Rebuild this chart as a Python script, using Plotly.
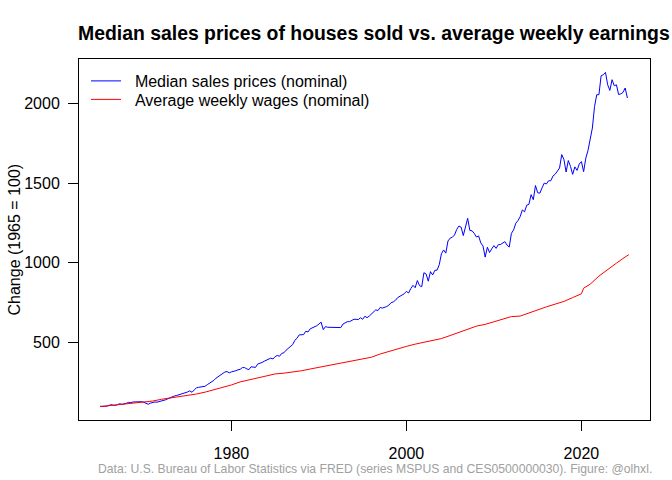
import plotly.graph_objects as go

# Median sales price of houses sold (MSPUS), quarterly 1965Q1-2025Q2, index 1965 = 100
mspus_index = [
    100, 98, 100, 101,      # 1965
    104, 110, 107, 106,     # 1966
    111, 116, 112, 114,     # 1967
    119, 125, 123, 127,     # 1968
    128, 129, 129, 129,     # 1969
    125, 120, 113, 120,     # 1970
    124, 127, 126, 129,     # 1971
    132, 135, 141, 148,     # 1972
    155, 161, 165, 168,     # 1973
    172, 178, 184, 186,     # 1974
    190, 197, 188, 203,     # 1975
    216, 219, 221, 223,     # 1976
    226, 236, 245, 252,     # 1977
    263, 277, 286, 297,     # 1978
    305, 315, 318, 310,     # 1979
    316, 318, 323, 329,     # 1980
    332, 343, 343, 335,     # 1981
    330, 348, 344, 344,     # 1982
    365, 368, 375, 383,     # 1983
    388, 397, 402, 397,     # 1984
    412, 419, 414, 432,     # 1985
    436, 452, 464, 472,     # 1986
    487, 514, 527, 548,     # 1987
    547, 550, 571, 566,     # 1988
    586, 591, 596, 605,     # 1989
    616, 628, 581, 600,     # 1990
    596, 596, 596, 596,     # 1991
    594, 596, 594, 616,     # 1992
    621, 631, 631, 641,     # 1993
    646, 646, 644, 656,     # 1994
    646, 665, 656, 666,     # 1995
    681, 695, 705, 701,     # 1996
    720, 716, 720, 726,     # 1997
    735, 750, 755, 765,     # 1998
    782, 789, 800, 806,     # 1999
    821, 811, 839, 859,     # 2000
    844, 889, 857, 850,     # 2001
    938, 930, 885, 945,     # 2002
    924, 953, 954, 988,     # 2003
    1057, 1081, 1061, 1137, # 2004
    1155, 1161, 1175, 1210, # 2005
    1231, 1224, 1171, 1219, # 2006
    1279, 1203, 1201, 1185, # 2007
    1162, 1169, 1125, 1106, # 2008
    1036, 1098, 1065, 1088, # 2009
    1108, 1091, 1114, 1115, # 2010
    1127, 1133, 1111, 1099, # 2011
    1185, 1207, 1249, 1265, # 2012
    1290, 1332, 1320, 1362, # 2013
    1367, 1428, 1396, 1485, # 2014
    1440, 1437, 1470, 1500, # 2015
    1495, 1515, 1515, 1545, # 2016
    1556, 1575, 1595, 1679, # 2017
    1649, 1570, 1642, 1605, # 2018
    1555, 1602, 1580, 1620, # 2019
    1635, 1572, 1657, 1705, # 2020
    1772, 1846, 1981, 2055, # 2021
    2055, 2174, 2180, 2195, # 2022
    2117, 2082, 2149, 2111, # 2023
    2117, 2056, 2060, 2069, # 2024
    2097, 2034,             # 2025
]
mspus_start_year = 1965
mspus_freq = 4

# Average weekly earnings (CES0500000030), index 1965 = 100
wage_years = [
    1965, 1966, 1967, 1968, 1969, 1970, 1971, 1972, 1973, 1974,
    1975, 1976, 1977, 1978, 1979, 1980, 1981, 1982, 1983, 1984,
    1985, 1986, 1987, 1988, 1989, 1990, 1991, 1992, 1993, 1994,
    1995, 1996, 1997, 1998, 1999, 2000, 2001, 2002, 2003, 2004,
    2005, 2006, 2007, 2008, 2009, 2010, 2011, 2012, 2013, 2014,
    2015, 2016, 2017, 2018, 2019, 2020, 2020.25, 2021, 2022, 2023,
    2024, 2025, 2025.42,
]
wage_index = [
    98, 104, 108, 114, 120, 125, 133, 144, 152, 158,
    166, 177, 189, 203, 219, 234, 253, 266, 279, 293,
    303, 308, 314, 323, 334, 345, 355, 364, 374, 386,
    396, 408, 428, 445, 462, 476, 490, 503, 514, 525,
    544, 564, 584, 603, 614, 630, 648, 663, 666, 686,
    704, 724, 741, 758, 782, 806, 841, 866, 917, 960,
    998, 1037, 1051,
]

series_names = ["Median sales prices (nominal)", "Average weekly wages (nominal)"]
y_ticks = [500, 1000, 1500, 2000]
x_ticks = [1980, 2000, 2020]
title_text = "Median sales prices of houses sold vs. average weekly earnings"
y_title = "Change (1965 = 100)"
caption = ("Data: U.S. Bureau of Labor Statistics via FRED (series MSPUS and "
           "CES0500000030). Figure: @olhxl.")

mspus_time = [mspus_start_year + i / mspus_freq for i in range(len(mspus_index))]

# R-style axis ranges (4% padding)
xmin = min(min(mspus_time), min(wage_years))
xmax = max(max(mspus_time), max(wage_years))
ymin = min(min(mspus_index), min(wage_index))
ymax = max(max(mspus_index), max(wage_index))
dx = xmax - xmin
dy = ymax - ymin
xr = [xmin - 0.04 * dx, xmax + 0.04 * dx]
yr = [ymin - 0.04 * dy, ymax + 0.04 * dy]

FONT = "Liberation Sans, Arial, Helvetica, sans-serif"
PAD = "\u00a0\u00a0"  # small gap between legend line and text, as in the original

W, H = 672, 480
ml, mr, mt, mb = 79, 22, 59, 60
pw, ph = W - ml - mr, H - mt - mb

fig = go.Figure()
fig.add_trace(go.Scatter(x=mspus_time, y=mspus_index, mode="lines",
                         line=dict(color="#0000FF", width=1),
                         name=PAD + series_names[0], legend="legend"))
fig.add_trace(go.Scatter(x=wage_years, y=wage_index, mode="lines",
                         line=dict(color="#FF0000", width=1),
                         name=PAD + series_names[1], legend="legend2"))

legend_common = dict(xanchor="left", yanchor="middle",
                     bgcolor="rgba(0,0,0,0)", borderwidth=0,
                     font=dict(family=FONT, size=16, color="black"),
                     itemwidth=30)

fig.update_layout(
    width=W, height=H,
    margin=dict(l=ml, r=mr, t=mt, b=mb, autoexpand=False),
    paper_bgcolor="white", plot_bgcolor="white",
    font=dict(family=FONT, size=16, color="black"),
    title=dict(text="<b>" + title_text + "</b>", x=78 / W, xanchor="left",
               y=1 - 33 / H, yanchor="middle",
               font=dict(family=FONT, size=19.4, color="black")),
    showlegend=True,
    legend=dict(x=(86 - ml) / pw, y=1 - (81 - mt) / ph, **legend_common),
    legend2=dict(x=(86 - ml) / pw, y=1 - (99.5 - mt) / ph, **legend_common),
    xaxis=dict(range=xr, tickvals=x_ticks, ticktext=[str(t) for t in x_ticks],
               showgrid=False, zeroline=False, showline=True, mirror=True,
               linecolor="black", linewidth=1, ticks="outside", ticklen=10,
               tickwidth=1, tickcolor="black", ticklabelstandoff=9,
               tickfont=dict(family=FONT, size=16, color="black")),
    yaxis=dict(range=yr, tickvals=y_ticks, ticktext=[str(t) for t in y_ticks],
               showgrid=False, zeroline=False, showline=True, mirror=True,
               linecolor="black", linewidth=1, ticks="outside", ticklen=10,
               tickwidth=1, tickcolor="black", ticklabelstandoff=5,
               tickfont=dict(family=FONT, size=16, color="black")),
    annotations=[
        dict(text=y_title, xref="paper", yref="paper",
             x=(14 - ml) / pw, y=0.5, xanchor="center", yanchor="middle",
             textangle=-90, showarrow=False,
             font=dict(family=FONT, size=16, color="black")),
        dict(text=caption, xref="paper", yref="paper",
             x=(654 - ml) / pw, y=-(469 - (mt + ph)) / ph,
             xanchor="right", yanchor="middle", showarrow=False,
             font=dict(family=FONT, size=12.2, color="#A0A0A0")),
    ],
)

fig.write_html("out.html", config={"displayModeBar": False},
               post_script="document.body.style.margin='0px';")
